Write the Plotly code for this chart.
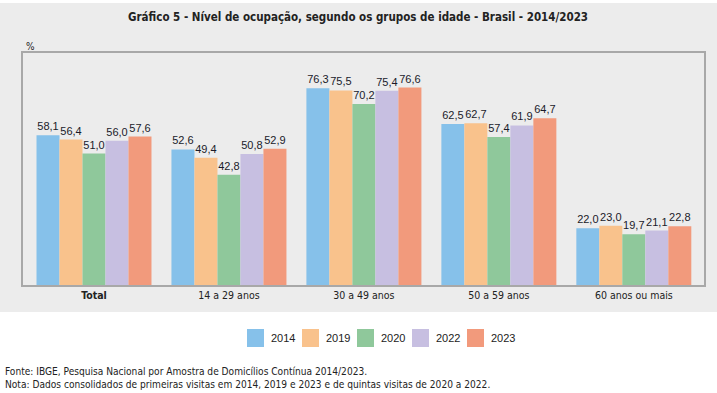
import plotly.graph_objects as go

categories = ["Total", "14 a 29 anos", "30 a 49 anos", "50 a 59 anos", "60 anos ou mais"]
years = ["2014", "2019", "2020", "2022", "2023"]
v2014 = [58.1, 52.6, 76.3, 62.5, 22.0]
v2019 = [56.4, 49.4, 75.5, 62.7, 23.0]
v2020 = [51.0, 42.8, 70.2, 57.4, 19.7]
v2022 = [56.0, 50.8, 75.4, 61.9, 21.1]
v2023 = [57.6, 52.9, 76.6, 64.7, 22.8]
series = [v2014, v2019, v2020, v2022, v2023]
colors = ["#86C1EA", "#F9C28C", "#8FC89B", "#C7BFE1", "#F29A7C"]

W, H = 717, 393
L, R, T, B = 23, 13, 53, 108
PW, PH = W - L - R, H - T - B

def px(x):
    return (x - L) / PW

def py(y):
    return (H - B - y) / PH

COND = "Liberation Sans Narrow, DejaVu Sans Condensed, Arial Narrow, sans-serif"
REG = "Liberation Sans, Arial, sans-serif"

fig = go.Figure()
for yr, vals, c in zip(years, series, colors):
    fig.add_trace(go.Bar(
        x=categories, y=vals, name=yr, marker=dict(color=c, line=dict(width=0)),
        texttemplate="%{y:.1f}", textposition="outside", constraintext="none",
        textfont=dict(family=REG, size=11, color="#1a1a2a"), cliponaxis=False,
        showlegend=False,
    ))

shapes = [dict(type="rect", xref="paper", yref="paper", x0=px(0), x1=px(W), y0=py(312), y1=py(3),
               fillcolor="#ececec", line=dict(width=0), layer="below")]
annotations = [
    dict(text="<b>Gráfico 5 - Nível de ocupação, segundo os grupos de idade - Brasil - 2014/2023</b>",
         xref="paper", yref="paper", x=px(358), y=py(17), showarrow=False,
         font=dict(family=COND, size=11.5, color="#222"), xanchor="center", yanchor="middle"),
    dict(text="%", xref="paper", yref="paper", x=px(24), y=py(46), showarrow=False,
         font=dict(family=COND, size=10, color="#222"), xanchor="left", yanchor="middle"),
    dict(text="Fonte: IBGE, Pesquisa Nacional por Amostra de Domicílios Contínua 2014/2023.",
         xref="paper", yref="paper", x=px(3), y=py(371), showarrow=False,
         font=dict(family=COND, size=10.1, color="#222"), xanchor="left", yanchor="middle"),
    dict(text="Nota: Dados consolidados de primeiras visitas em 2014, 2019 e 2023 e de quintas visitas de 2020 a 2022.",
         xref="paper", yref="paper", x=px(3), y=py(385), showarrow=False,
         font=dict(family=COND, size=10.1, color="#222"), xanchor="left", yanchor="middle"),
]
for i, (yr, c) in enumerate(zip(years, colors)):
    x0 = 247 + 55 * i
    shapes.append(dict(type="rect", xref="paper", yref="paper", x0=px(x0), x1=px(x0 + 17),
                       y0=py(347), y1=py(329), fillcolor=c, line=dict(width=0)))
    annotations.append(dict(text=yr, xref="paper", yref="paper", x=px(x0 + 22), y=py(338),
                            showarrow=False, xanchor="left", yanchor="middle",
                            font=dict(family=REG, size=11, color="#222")))

ticktext = ["<b>Total</b>"] + categories[1:]
fig.update_layout(
    width=W, height=H, margin=dict(l=L, r=R, t=T, b=B, pad=0),
    paper_bgcolor="white", plot_bgcolor="white",
    barmode="group", bargap=0.148, bargroupgap=0,
    separators=",.",
    shapes=shapes, annotations=annotations,
    xaxis=dict(range=[-0.526, 4.52], tickmode="array", tickvals=categories, ticktext=ticktext,
               showline=True, mirror=True, linecolor="#a8a8a8", linewidth=1.5,
               ticks="", tickfont=dict(family=COND, size=10.5, color="#222"), showgrid=False),
    yaxis=dict(range=[0, 90], showticklabels=False, showgrid=False, zeroline=False,
               showline=True, mirror=True, linecolor="#a8a8a8", linewidth=1.5, ticks=""),
)
fig.write_html("out.html", config={"displayModeBar": False},
               post_script="document.body.style.margin='0';document.body.style.overflow='hidden';")
